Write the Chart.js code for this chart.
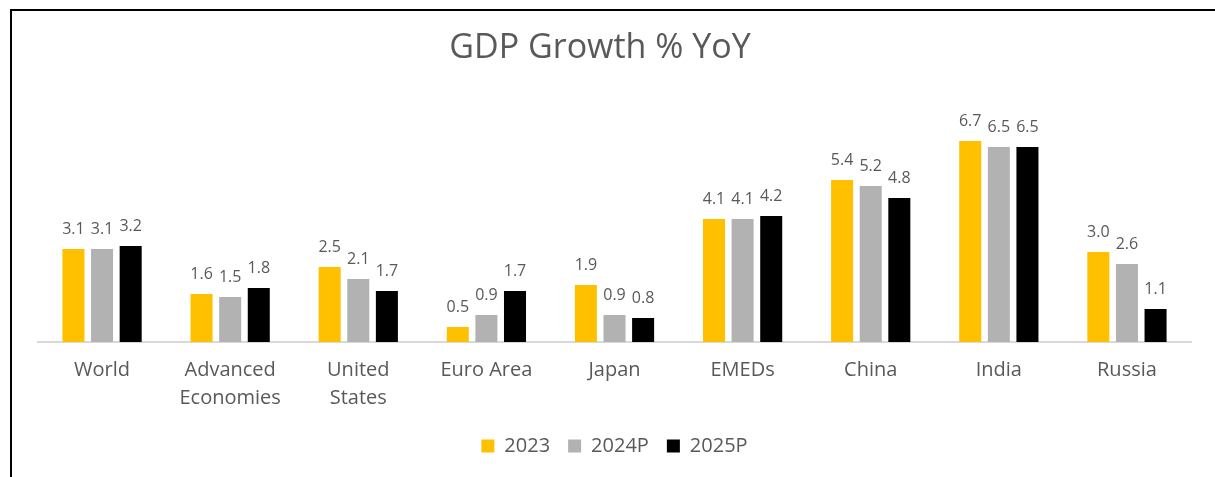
<!DOCTYPE html>
<html>
<head>
<meta charset="utf-8">
<script src="https://cdn.jsdelivr.net/npm/chart.js@4.4.1/dist/chart.umd.min.js"></script>
<style>
  html, body { margin: 0; padding: 0; background: #fff; }
  #frame {
    position: absolute; left: 10px; top: 9px; right: 0; bottom: 0;
    border-top: 2px solid #000; border-left: 2px solid #000;
  }
  #wrap { position: absolute; left: 0; top: 0; width: 1215px; height: 477px; }
</style>
</head>
<body>
<div id="frame"></div>
<div id="wrap"><canvas id="barchart"></canvas></div>
<script>
// data dari gambar
const regions = ['World', ['Advanced', 'Economies'], ['United', 'States'], 'Euro Area', 'Japan', 'EMEDs', 'China', 'India', 'Russia'];
const growth2023 = [3.1, 1.6, 2.5, 0.5, 1.9, 4.1, 5.4, 6.7, 3.0];
const growth2024P = [3.1, 1.5, 2.1, 0.9, 0.9, 4.1, 5.2, 6.5, 2.6];
const growth2025P = [3.2, 1.8, 1.7, 1.7, 0.8, 4.2, 4.8, 6.5, 1.1];

const chartTitle = 'GDP Growth % YoY';
const textColor = '#595959';
const fontName = '"Open Sans", Roboto, sans-serif';

// judul + label nilai di atas batang
const valueLabels = {
    id: 'valueLabels',
    afterDatasetsDraw(chart) {
        const ctx = chart.ctx;
        ctx.save();
        ctx.fillStyle = textColor;
        ctx.textAlign = 'center';
        ctx.textBaseline = 'middle';
        ctx.font = '34px ' + fontName;
        ctx.fillText(chartTitle, 600, 48);

        ctx.font = '16px ' + fontName;
        ctx.textBaseline = 'bottom';
        chart.data.datasets.forEach((ds, i) => {
            chart.getDatasetMeta(i).data.forEach((bar, j) => {
                ctx.fillText(ds.data[j].toFixed(1), bar.x, bar.y - 12);
            });
        });
        ctx.restore();
    }
};

const ctx1 = document.getElementById('barchart').getContext('2d');
const barchart = new Chart(ctx1, {
    type: 'bar',
    data: {
        labels: regions,
        datasets: [
            { label: '2023', data: growth2023, backgroundColor: '#FFC000' },
            { label: '2024P', data: growth2024P, backgroundColor: '#B2B2B2' },
            { label: '2025P', data: growth2025P, backgroundColor: '#000000' }
        ]
    },
    options: {
        responsive: true,
        maintainAspectRatio: false,
        animation: false,
        datasets: {
            bar: { categoryPercentage: 0.67, barPercentage: 0.77 }
        },
        layout: { padding: { left: 38, right: 24, top: 102, bottom: 11 } },
        scales: {
            x: {
                grid: { display: false },
                border: { color: '#D9D9D9', width: 2 },
                ticks: {
                    color: textColor,
                    font: { family: fontName, size: 20, lineHeight: 1.4 },
                    padding: 6,
                    maxRotation: 0,
                    autoSkip: false
                }
            },
            y: {
                display: false,
                min: 0,
                max: 8
            }
        },
        plugins: {
            title: { display: false },
            legend: {
                position: 'bottom',
                labels: {
                    color: textColor,
                    font: { family: fontName, size: 20 },
                    boxWidth: 13,
                    boxHeight: 13,
                    padding: 18
                }
            },
            tooltip: { enabled: false }
        }
    },
    plugins: [valueLabels]
});
</script>
</body>
</html>
